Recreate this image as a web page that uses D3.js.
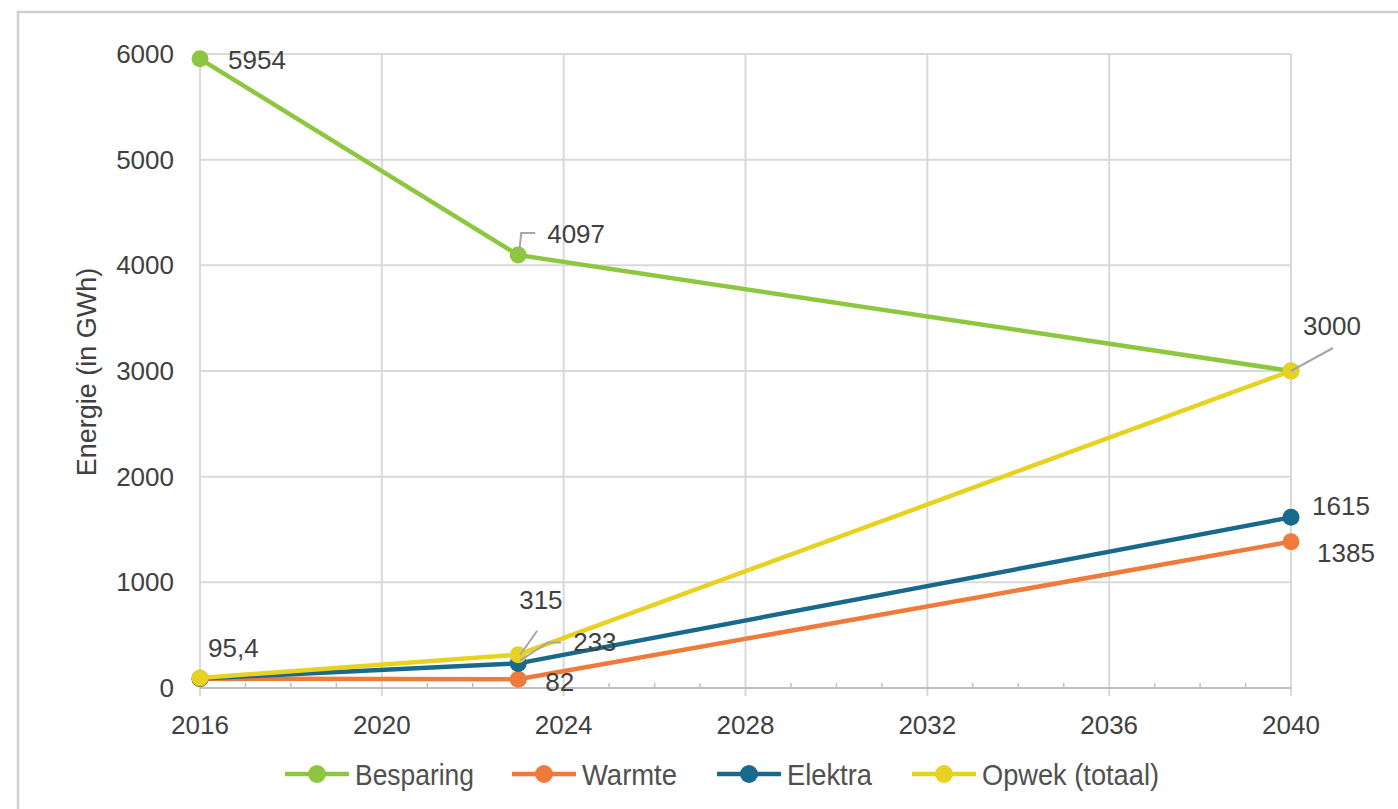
<!DOCTYPE html>
<html>
<head>
<meta charset="utf-8">
<script src="https://cdn.jsdelivr.net/npm/d3@7"></script>
<style>
  body { margin: 0; background: #fff; }
  svg { display: block; }
  text { font-family: "Liberation Sans", Arial, sans-serif; fill: #404040; }
  .legend text { fill: #505050; }
</style>
</head>
<body>
<div id="chart"></div>
<script>
// data
var years = [2016, 2023, 2040];
var besparing = [5954, 4097, 3000];
var warmte = [88, 82, 1385];
var elektra = [90, 233, 1615];
var opwek = [95.4, 315, 3000];

var seriesNames = ['Besparing', 'Warmte', 'Elektra', 'Opwek (totaal)'];
var seriesColors = ['#8dc63f', '#f07a3a', '#186a8c', '#e6d21f'];
var yTicks = [0, 1000, 2000, 3000, 4000, 5000, 6000];
var xTicks = [2016, 2020, 2024, 2028, 2032, 2036, 2040];

// data labels: series index, point index, text, label offset and leader line
var labels = [
  {s: 0, i: 0, text: '5954', dx: 28, dy: 10},
  {s: 0, i: 1, text: '4097', dx: 29, dy: -12, leader: [[1, -3], [3, -22], [17, -22]]},
  {s: 0, i: 2, text: '3000', dx: 12, dy: -36, leader: [[0, 0], [42, -23]]},
  {s: 3, i: 0, text: '95,4', dx: 8, dy: -21},
  {s: 3, i: 1, text: '315', dx: 1, dy: -46, leader: [[2, 0], [19, -24]]},
  {s: 2, i: 1, text: '233', dx: 55, dy: -12, leader: [[2, -3], [30, -21], [43, -21]]},
  {s: 1, i: 1, text: '82', dx: 27, dy: 12},
  {s: 2, i: 2, text: '1615', dx: 21, dy: -2},
  {s: 1, i: 2, text: '1385', dx: 26, dy: 20}
];

var allSeries = [besparing, warmte, elektra, opwek];

var width = 1398, height = 809;
var svg = d3.select('#chart').append('svg')
    .attr('width', width)
    .attr('height', height);

// outer frame
svg.append('rect')
    .attr('x', 18).attr('y', 12)
    .attr('width', 1400).attr('height', 820)
    .attr('fill', '#fff')
    .attr('stroke', '#d0d0d0')
    .attr('stroke-width', 2.5);

var x = d3.scaleLinear().domain([2016, 2040]).range([200, 1291]);
var y = d3.scaleLinear().domain([0, 6000]).range([688, 54]);

// gridlines
svg.append('g').selectAll('line.h')
  .data(yTicks.filter(function(d) { return d > 0; }))
  .enter().append('line')
    .attr('x1', x(2016)).attr('x2', x(2040))
    .attr('y1', function(d) { return y(d); })
    .attr('y2', function(d) { return y(d); })
    .attr('stroke', '#d9d9d9').attr('stroke-width', 2);

svg.append('g').selectAll('line.v')
  .data(xTicks)
  .enter().append('line')
    .attr('x1', function(d) { return x(d); })
    .attr('x2', function(d) { return x(d); })
    .attr('y1', y(6000)).attr('y2', y(0) + 8)
    .attr('stroke', '#d9d9d9').attr('stroke-width', 2);

// minor ticks on the x axis, each year
svg.append('g').selectAll('line.minor')
  .data(d3.range(2016, 2041).filter(function(d) { return (d - 2016) % 4 !== 0; }))
  .enter().append('line')
    .attr('x1', function(d) { return x(d); })
    .attr('x2', function(d) { return x(d); })
    .attr('y1', y(0) - 5).attr('y2', y(0))
    .attr('stroke', '#bfbfbf').attr('stroke-width', 1.5);

// x axis line
svg.append('line')
    .attr('x1', x(2016)).attr('x2', x(2040))
    .attr('y1', y(0)).attr('y2', y(0))
    .attr('stroke', '#bfbfbf').attr('stroke-width', 2);

// tick labels
svg.append('g').selectAll('text')
  .data(yTicks)
  .enter().append('text')
    .attr('x', 174)
    .attr('y', function(d) { return y(d) + 9; })
    .attr('text-anchor', 'end')
    .attr('font-size', 26)
    .text(function(d) { return d; });

svg.append('g').selectAll('text')
  .data(xTicks)
  .enter().append('text')
    .attr('x', function(d) { return x(d); })
    .attr('y', 734)
    .attr('text-anchor', 'middle')
    .attr('font-size', 26)
    .text(function(d) { return d; });

// y axis title
svg.append('text')
    .attr('transform', 'translate(96,372) rotate(-90)')
    .attr('text-anchor', 'middle')
    .attr('font-size', 27)
    .text('Energie (in GWh)');

// lines and markers
var line = d3.line()
    .x(function(d, i) { return x(years[i]); })
    .y(function(d) { return y(d); });

var drawOrder = [1, 2, 0, 3];
drawOrder.forEach(function(s) {
  var g = svg.append('g');
  g.append('path')
      .datum(allSeries[s])
      .attr('d', line)
      .attr('fill', 'none')
      .attr('stroke', seriesColors[s])
      .attr('stroke-width', 4.5)
      .attr('stroke-linejoin', 'round');
  g.selectAll('circle')
    .data(allSeries[s])
    .enter().append('circle')
      .attr('cx', function(d, i) { return x(years[i]); })
      .attr('cy', function(d) { return y(d); })
      .attr('r', 8.5)
      .attr('fill', seriesColors[s]);
});

// data labels
labels.forEach(function(l) {
  var px = x(years[l.i]), py = y(allSeries[l.s][l.i]);
  if (l.leader) {
    svg.append('path')
        .attr('d', d3.line()(l.leader.map(function(p) { return [px + p[0], py + p[1]]; })))
        .attr('fill', 'none')
        .attr('stroke', '#a6a6a6')
        .attr('stroke-width', 2);
  }
  svg.append('text')
      .attr('x', px + l.dx)
      .attr('y', py + l.dy)
      .attr('font-size', 26)
      .text(l.text);
});

// legend (narrow font, squeezed to the widths seen in the picture)
var legendX = [285, 512, 717, 912];
var legendW = [119, 95, 85, 177];
var legend = svg.append('g').attr('class', 'legend');
seriesNames.forEach(function(name, i) {
  var lx = legendX[i], ly = 774;
  legend.append('line')
      .attr('x1', lx).attr('x2', lx + 64)
      .attr('y1', ly).attr('y2', ly)
      .attr('stroke', seriesColors[i]).attr('stroke-width', 4.5);
  legend.append('circle')
      .attr('cx', lx + 32).attr('cy', ly).attr('r', 9)
      .attr('fill', seriesColors[i]);
  legend.append('text')
      .attr('x', lx + 70).attr('y', ly + 11)
      .attr('font-size', 29)
      .attr('textLength', legendW[i])
      .attr('lengthAdjust', 'spacingAndGlyphs')
      .text(name);
});
</script>
</body>
</html>
